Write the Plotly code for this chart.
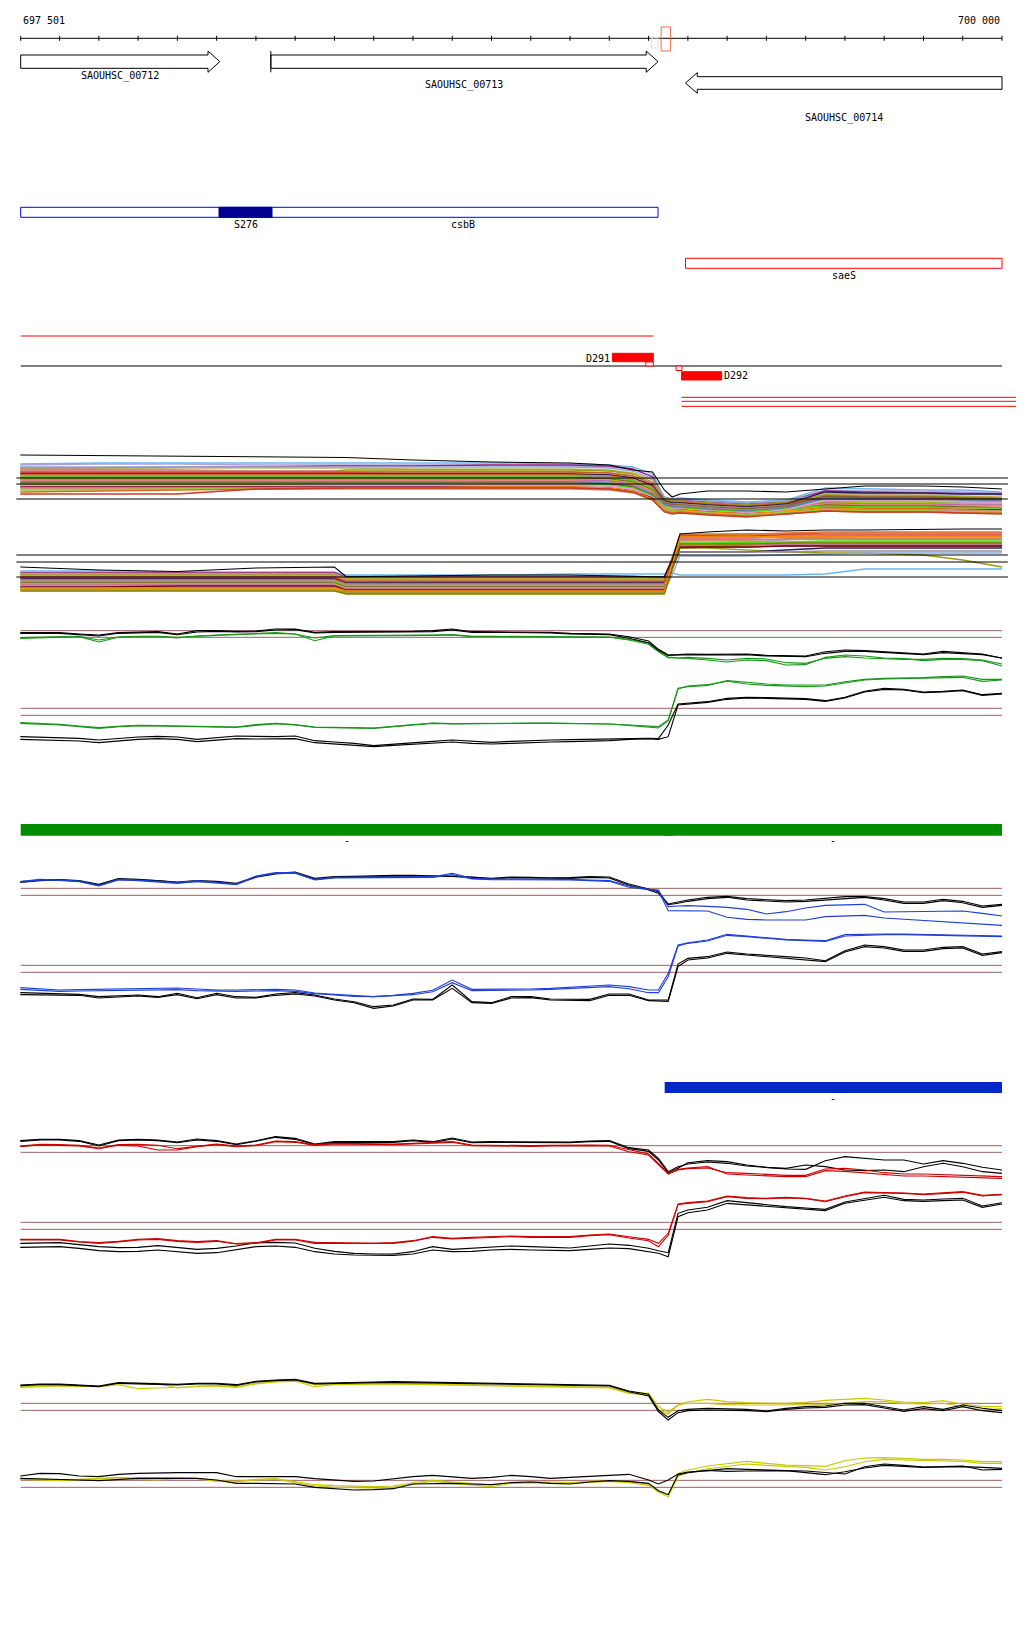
import plotly.graph_objects as go

PAGE_W, PAGE_H = 1024, 1640
BODY_MARGIN = 8  # default page margin around the plot div
W, H = PAGE_W - BODY_MARGIN, PAGE_H - BODY_MARGIN

# ---------------- genomic window / ruler ----------------
PX_PER_BP = 0.39268
PAGE_LEFT_BP = 697448.3            # position at the left page edge
VIEW_START = PAGE_LEFT_BP + BODY_MARGIN / PX_PER_BP
VIEW_END = PAGE_LEFT_BP + PAGE_W / PX_PER_BP
RULER_START, RULER_END = 697501, 700000
RULER_TICKS = [697501] + list(range(697600, 700001, 100))
RULER_LABELS = ["697 501", "700 000"]

# ---------------- genes ----------------
GENE_NAMES = ["SAOUHSC_00712", "SAOUHSC_00713", "SAOUHSC_00714"]
GENE_START = [697501, 698138, 699194]
GENE_END = [698008, 699124, 700000]
GENE_STRAND = ["+", "+", "-"]
GENE_TRUNCATED_START = [False, True, False]

# ---------------- protein features ----------------
DOMAIN_NAMES = ["csbB", "saeS"]
DOMAIN_START = [697501, 699194]
DOMAIN_END = [699124, 700000]
DOMAIN_LABEL_POS = [698627, 699597]
DOMAIN_COLORS = ["#0000ff", "#ff0000"]
SITE_NAMES = ["S276"]
SITE_START = [698006]
SITE_END = [698141]

# markers on the ruler
MARK_START = [699107, 699132]
MARK_END = [699124, 699156]
MARK_COLORS = ["#f8d8cc", "#f26a4f"]

# deletion / fragment features
FRAG_NAMES = ["D291", "D292"]
FRAG_START = [699008, 699184]
FRAG_END = [699112, 699286]
SMALL_BOX_START = [699093, 699170]
SMALL_BOX_END = [699112, 699185]
RED_TRACK_START = [697501, 699184, 699184, 699184]
RED_TRACK_END = [699112, 700060, 700060, 700060]

# expression-block features
GREEN_FEAT_START = [697501, 699141]
GREEN_FEAT_END = [699164, 700000]
BLUE_FEAT_START = [699141]
BLUE_FEAT_END = [700000]

# ---------------- multi-sample panel ----------------
MC_X = [697500, 697700, 697900, 698100, 698300, 698330, 698500, 698700, 698900,
        699000, 699060, 699110, 699140, 699160, 699180, 699250, 699350, 699450,
        699550, 699650, 699800, 699900, 700000]
MC_REF = [122, 116, 101, 45, 38, 23]
MC_UPPER_BLACK = [145, 144.5, 144, 143.5, 143, 142.5, 140, 138, 137, 135, 130, 128, 110, 103, 106, 109, 109, 108, 111, 114, 114, 113, 111]
MC_LOWER_BLACK = [33, 30, 28.5, 32, 33, 23.3, 24, 25, 25, 24, 24, 23, 23, 40, 66, 68, 70, 69, 70, 70, 71, 71, 71]
MC_UPPER_COLORS = ["#6cb6f0", "#b4a0d8", "#a0207c", "#8fa8e0", "#c8b060", "#9a9a10", "#e080a8", "#c06020",
                   "#d83030", "#202058", "#e8782a", "#909090", "#5cc81c", "#8b5a2b", "#a8c800", "#c060b0",
                   "#f08070", "#4682b4", "#6b6b10", "#40e010", "#cd853f", "#dda0dd", "#800020", "#ff8c00",
                   "#bc8f8f", "#9acd32", "#d2691e", "#c83c28"]
MC_UPPER = [
    [136, 137, 137, 137, 137, 137, 137, 137, 136, 135, 133, 126, 103, 101, 102, 100, 98, 100, 112, 111, 110, 110, 108],
    [135, 136, 136, 135, 135, 135, 135, 135, 134, 133, 131, 124, 102, 100, 101, 99, 97, 99, 110, 109, 109, 108, 107],
    [132, 132, 133, 133, 134, 134, 134, 135, 135, 134, 131, 123, 101, 99, 100, 98, 96, 98, 109, 108, 107, 107, 106],
    [133, 133, 133, 133, 133, 133, 133, 133, 133, 132, 129, 121, 103, 101, 101, 99, 97, 99, 107, 106, 106, 106, 105],
    [131, 131, 132, 132, 132, 132, 131, 131, 131, 130, 127, 120, 100, 98, 99, 97, 95, 97, 106, 105, 105, 104, 103],
    [130, 130, 130, 129, 129, 130, 130, 130, 130, 129, 126, 118, 101, 99, 99, 97, 95, 98, 105, 104, 104, 103, 102],
    [129, 129, 129, 129, 129, 128, 128, 128, 128, 127, 124, 117, 99, 97, 98, 96, 94, 96, 104, 103, 102, 102, 101],
    [128, 128, 128, 128, 128, 128, 128, 128, 128, 127, 124, 116, 100, 98, 98, 96, 94, 97, 103, 102, 102, 101, 100],
    [127, 127, 127, 127, 127, 127, 126, 126, 126, 125, 122, 115, 98, 96, 97, 95, 93, 95, 102, 102, 101, 101, 100],
    [126, 126, 126, 126, 126, 126, 126, 126, 126, 125, 122, 114, 99, 97, 97, 95, 93, 96, 108, 107, 107, 106, 106],
    [125, 125, 125, 125, 125, 125, 125, 125, 125, 124, 121, 113, 97, 95, 96, 94, 92, 94, 101, 100, 99, 99, 98],
    [124, 124, 124, 124, 124, 124, 124, 124, 124, 123, 120, 112, 98, 96, 96, 94, 92, 95, 100, 99, 99, 98, 97],
    [123, 123, 123, 123, 123, 123, 123, 123, 123, 122, 119, 111, 96, 94, 95, 93, 91, 93, 99, 98, 98, 97, 97],
    [122, 122, 122, 122, 122, 122, 122, 122, 122, 121, 118, 110, 97, 95, 95, 93, 91, 94, 104, 103, 103, 102, 101],
    [121, 121, 121, 121, 121, 121, 121, 121, 121, 120, 117, 109, 95, 93, 94, 92, 90, 92, 98, 97, 97, 96, 96],
    [120, 120, 120, 120, 120, 120, 120, 120, 120, 119, 116, 108, 96, 94, 94, 92, 90, 93, 97, 96, 96, 95, 95],
    [119, 119, 119, 119, 119, 119, 119, 119, 119, 118, 115, 107, 94, 92, 93, 91, 89, 91, 96, 95, 95, 94, 93],
    [118, 118, 118, 118, 118, 118, 118, 118, 118, 117, 114, 106, 95, 93, 93, 91, 89, 92, 102, 101, 101, 100, 100],
    [117, 117, 117, 117, 117, 117, 117, 117, 117, 116, 113, 105, 93, 91, 92, 90, 88, 90, 95, 94, 94, 93, 92],
    [116, 116, 116, 116, 116, 116, 116, 116, 116, 115, 112, 104, 94, 92, 92, 90, 88, 91, 94, 93, 93, 92, 92],
    [115, 115, 115, 115, 115, 115, 115, 115, 115, 114, 111, 103, 92, 90, 91, 89, 87, 89, 93, 92, 92, 91, 90],
    [114, 114, 114, 114, 115, 115, 115, 115, 115, 114, 111, 103, 93, 91, 91, 89, 87, 90, 100, 99, 99, 98, 97],
    [113, 113, 113, 113, 113, 113, 113, 113, 113, 112, 109, 102, 91, 89, 90, 88, 86, 88, 92, 91, 91, 90, 90],
    [112, 112, 112, 112, 112, 112, 112, 113, 113, 112, 109, 101, 92, 90, 90, 88, 86, 89, 92, 91, 91, 90, 89],
    [111, 111, 111, 111, 111, 111, 111, 111, 111, 110, 107, 100, 90, 88, 89, 87, 85, 87, 91, 90, 90, 89, 89],
    [110, 110, 111, 111, 111, 112, 112, 112, 112, 111, 108, 100, 91, 89, 89, 87, 85, 88, 90, 89, 89, 88, 88],
    [108, 109, 110, 111, 112, 112, 112, 112, 112, 111, 108, 100, 89, 87, 88, 86, 84, 86, 89, 88, 88, 87, 87],
    [106, 106, 106, 111, 112, 112, 112, 112, 112, 111, 108, 100, 88, 86, 87, 85, 83, 86, 89, 88, 88, 87, 86],
]
MC_LOWER_COLORS = ["#6cb6f0", "#b4a0d8", "#a0207c", "#c8b060", "#9a9a10", "#e080a8", "#c06020", "#d83030",
                   "#202058", "#e8782a", "#909090", "#5cc81c", "#8b5a2b", "#a8c800", "#c060b0", "#f08070",
                   "#8fa8e0", "#6b6b10", "#40e010", "#cd853f", "#800020", "#ff8c00", "#808000"]
MC_LOWER = [
    [29, 29, 28, 28, 28, 25, 25, 25, 26, 26, 26, 26, 26, 27, 25, 25, 25, 25, 26, 31, 31, 31, 31],
    [28, 28, 28, 27, 27, 24, 24, 24, 24, 24, 24, 23, 23, 40, 58, 58, 58, 60, 62, 62, 62, 62, 62],
    [27, 27, 27, 27, 27, 23, 23, 23, 23, 23, 23, 23, 23, 42, 62, 62, 62, 63, 63, 64, 64, 64, 64],
    [26, 26, 26, 26, 26, 22, 22, 22, 22, 22, 22, 22, 22, 38, 55, 55, 56, 57, 58, 58, 58, 58, 58],
    [25, 25, 25, 25, 25, 21, 21, 21, 21, 21, 21, 21, 21, 36, 52, 52, 50, 48, 47, 47, 45, 40, 33],
    [24, 24, 24, 24, 24, 20, 20, 20, 20, 20, 20, 20, 20, 40, 60, 60, 60, 61, 61, 61, 61, 61, 61],
    [23, 23, 23, 23, 23, 19, 19, 19, 19, 19, 19, 19, 19, 42, 65, 65, 66, 66, 67, 67, 67, 67, 67],
    [22, 22, 22, 22, 22, 18, 18, 18, 18, 18, 18, 18, 18, 41, 64, 64, 64, 65, 65, 65, 65, 65, 65],
    [21, 21, 21, 21, 21, 17, 17, 17, 17, 17, 17, 17, 17, 33, 48, 48, 48, 50, 52, 52, 52, 52, 52],
    [20, 20, 20, 20, 20, 16, 16, 16, 16, 16, 16, 16, 16, 40, 66, 66, 66, 67, 68, 68, 68, 68, 68],
    [19, 19, 19, 19, 19, 15, 15, 15, 15, 15, 15, 15, 15, 32, 48, 48, 48, 48, 49, 49, 49, 49, 49],
    [18, 18, 18, 18, 18, 14, 14, 14, 14, 14, 14, 14, 14, 35, 56, 56, 57, 57, 57, 57, 57, 57, 57],
    [17, 17, 17, 17, 17, 13, 13, 13, 13, 13, 13, 13, 13, 38, 63, 63, 63, 64, 64, 64, 64, 64, 64],
    [16, 16, 16, 16, 16, 12, 12, 12, 12, 12, 12, 12, 12, 34, 55, 55, 55, 56, 56, 56, 56, 56, 56],
    [15, 15, 15, 15, 15, 11, 11, 11, 11, 11, 11, 11, 11, 33, 54, 54, 55, 55, 55, 55, 55, 55, 55],
    [14, 14, 14, 14, 14, 10, 10, 10, 10, 10, 10, 10, 10, 36, 62, 62, 62, 63, 63, 63, 63, 63, 63],
    [13, 13, 13, 13, 13, 9, 9, 9, 9, 9, 9, 9, 9, 25, 44, 44, 44, 45, 46, 47, 47, 47, 47],
    [12, 12, 12, 12, 12, 8, 8, 8, 8, 8, 8, 8, 8, 30, 52, 53, 53, 54, 54, 54, 54, 54, 54],
    [11, 11, 11, 11, 11, 7, 7, 7, 7, 7, 7, 7, 7, 32, 57, 57, 58, 58, 59, 59, 59, 59, 59],
    [10, 10, 10, 10, 10, 7, 7, 7, 7, 7, 7, 7, 7, 34, 60, 60, 60, 61, 61, 61, 61, 61, 61],
    [13, 13, 14, 14, 14, 10, 10, 10, 10, 10, 10, 10, 10, 32, 53, 53, 53, 54, 54, 54, 54, 54, 54],
    [12, 12, 12, 12, 12, 9, 9, 9, 9, 9, 9, 9, 9, 36, 63, 63, 63, 64, 64, 64, 64, 64, 64],
    [9, 9, 9, 9, 9, 6, 6, 6, 6, 6, 6, 6, 6, 30, 56, 56, 56, 57, 57, 57, 57, 57, 57],
]

# ---------------- detailed panels (shared position grid) ----------------
GRID_X = list(range(697500, 699101, 50)) + [699125, 699150, 699175] + list(range(699200, 700001, 50))

G_REF = [388, 368, 155, 134]
G_TOP_K1 = [382, 382, 382, 378, 375, 382, 384, 385, 378, 388, 388, 386, 387, 393, 393, 383, 385, 385, 385, 385,
            386, 388, 393, 385, 385, 385, 384, 383, 380, 380, 378, 370, 357, 332, 315, 316,
            318, 317, 317, 318, 314, 312, 312, 325, 330, 328, 324, 320, 318, 326, 322, 318, 305]
G_TOP_K2 = [380, 380, 380, 376, 372, 380, 382, 383, 376, 384, 386, 384, 385, 390, 391, 381, 383, 383, 383, 383,
            384, 385, 390, 383, 383, 383, 382, 381, 378, 378, 376, 365, 352, 330, 314, 315,
            316, 316, 315, 316, 312, 310, 310, 320, 326, 326, 322, 318, 316, 322, 320, 316, 306]
G_TOP_G1 = [365, 367, 368, 370, 354, 368, 370, 370, 366, 372, 375, 377, 379, 382, 378, 358, 372, 372, 372, 372,
            373, 374, 375, 370, 370, 370, 370, 370, 370, 370, 368, 360, 347, 325, 307, 306,
            305, 300, 294, 300, 298, 285, 286, 308, 315, 312, 306, 304, 298, 302, 302, 298, 282]
G_TOP_G2 = [367, 368, 369, 371, 360, 369, 371, 371, 368, 372, 374, 376, 378, 380, 378, 366, 373, 373, 373, 373,
            374, 375, 376, 371, 371, 371, 371, 371, 371, 371, 369, 362, 350, 327, 309, 306,
            308, 305, 300, 305, 303, 292, 290, 305, 310, 306, 303, 302, 302, 305, 304, 300, 288]
G_BOT_G1 = [110, 108, 105, 100, 95, 100, 103, 102, 101, 100, 99, 98, 104, 109, 105, 98, 97, 96, 95, 100,
            104, 110, 108, 109, 110, 110, 110, 110, 110, 110, 108, 105, 103, 100, 120, 215,
            220, 224, 238, 232, 228, 225, 224, 225, 235, 242, 245, 245, 247, 250, 252, 242, 242]
G_BOT_G2 = [112, 110, 107, 102, 97, 101, 104, 103, 102, 101, 100, 99, 106, 110, 106, 99, 98, 97, 96, 101,
            105, 111, 109, 110, 111, 111, 111, 111, 110, 110, 108, 104, 100, 96, 118, 213,
            222, 226, 236, 228, 224, 222, 220, 222, 232, 240, 243, 244, 245, 246, 248, 236, 240]
G_BOT_K1 = [70, 68, 66, 65, 60, 65, 69, 71, 69, 62, 68, 72, 71, 70, 72, 58, 54, 50, 43, 48,
            52, 56, 60, 56, 53, 56, 59, 60, 61, 62, 63, 65, 65, 64, 105, 168,
            170, 175, 185, 188, 187, 186, 184, 178, 188, 206, 215, 212, 204, 206, 210, 196, 200]
G_BOT_K2 = [62, 60, 58, 57, 52, 58, 62, 64, 62, 55, 60, 64, 63, 63, 64, 52, 48, 44, 40, 44,
            47, 50, 54, 50, 48, 50, 53, 54, 55, 56, 58, 62, 64, 62, 70, 165,
            168, 173, 182, 186, 185, 184, 182, 176, 186, 204, 212, 210, 202, 204, 208, 194, 198]

B_REF = [365, 344, 134, 113]
B_TOP_K1 = [385, 390, 391, 388, 377, 394, 392, 389, 384, 388, 386, 380, 400, 410, 414, 395, 400, 401, 403, 404,
            404, 403, 402, 399, 395, 399, 398, 396, 397, 400, 399, 378, 363, 355, 318, 325,
            330, 338, 341, 334, 330, 328, 330, 334, 340, 340, 334, 324, 324, 332, 326, 312, 317]
B_TOP_K2 = [383, 388, 390, 386, 374, 392, 390, 388, 382, 386, 384, 378, 398, 408, 412, 392, 398, 399, 401, 402,
            402, 401, 401, 398, 393, 397, 396, 394, 395, 398, 396, 374, 360, 350, 316, 320,
            326, 334, 338, 330, 326, 324, 326, 330, 336, 338, 330, 320, 320, 328, 322, 308, 314]
B_TOP_B1 = [385, 392, 390, 387, 374, 392, 390, 387, 382, 388, 384, 378, 402, 412, 412, 392, 398, 398, 398, 398,
            398, 400, 410, 395, 393, 393, 392, 392, 392, 390, 388, 372, 362, 360, 310, 312,
            313, 311, 308, 302, 288, 295, 306, 314, 316, 317, 294, 295, 296, 298, 297, 290, 282]
B_TOP_B2 = [383, 390, 389, 385, 372, 390, 388, 385, 380, 386, 382, 376, 400, 410, 410, 390, 396, 396, 396, 396,
            396, 398, 406, 393, 391, 391, 390, 390, 390, 388, 386, 368, 360, 358, 298, 298,
            298, 297, 278, 272, 270, 270, 270, 280, 283, 284, 276, 272, 268, 265, 262, 258, 254]
B_BOT_B1 = [67, 63, 60, 61, 62, 63, 65, 67, 66, 63, 60, 60, 61, 62, 60, 51, 47, 43, 40, 44,
            50, 59, 90, 62, 62, 62, 63, 65, 68, 70, 75, 70, 60, 60, 110, 195,
            202, 210, 227, 222, 216, 212, 210, 208, 226, 228, 228, 228, 227, 226, 225, 223, 222]
B_BOT_B2 = [62, 58, 56, 57, 58, 59, 60, 62, 61, 58, 56, 56, 57, 58, 56, 49, 45, 41, 40, 42,
            46, 55, 82, 58, 58, 58, 60, 62, 64, 66, 70, 64, 52, 52, 100, 192,
            200, 207, 224, 220, 214, 210, 208, 206, 222, 225, 226, 226, 225, 224, 223, 221, 220]
B_BOT_K1 = [52, 50, 49, 47, 40, 43, 45, 40, 50, 37, 50, 40, 38, 48, 52, 45, 33, 25, 10, 15,
            33, 32, 75, 25, 22, 40, 40, 33, 32, 32, 48, 48, 30, 29, 30, 138,
            155, 160, 174, 168, 163, 160, 156, 148, 178, 195, 190, 180, 180, 188, 190, 168, 175]
B_BOT_K2 = [46, 46, 45, 44, 36, 40, 42, 38, 46, 34, 46, 36, 36, 44, 48, 42, 30, 22, 5, 12,
            30, 30, 65, 22, 20, 36, 37, 30, 28, 28, 44, 44, 28, 26, 26, 130,
            150, 156, 170, 165, 160, 156, 152, 145, 174, 190, 186, 176, 176, 184, 186, 164, 172]

R_REF = [373, 353, 143, 122]
R_TOP_K1 = [388, 392, 392, 388, 375, 390, 392, 390, 384, 393, 388, 378, 388, 400, 395, 378, 385, 385, 385, 385,
            390, 385, 396, 384, 385, 385, 385, 383, 384, 387, 388, 367, 360, 335, 295, 310,
            318, 324, 320, 312, 308, 303, 302, 328, 340, 335, 330, 330, 318, 328, 320, 308, 300]
R_TOP_K2 = [386, 390, 390, 386, 372, 388, 390, 388, 382, 390, 386, 376, 386, 398, 392, 376, 383, 383, 383, 383,
            388, 383, 393, 382, 383, 383, 383, 381, 382, 385, 386, 364, 356, 330, 292, 305,
            322, 328, 325, 315, 308, 305, 315, 310, 300, 298, 300, 295, 310, 320, 310, 295, 290]
R_TOP_R1 = [372, 377, 376, 374, 366, 376, 377, 374, 364, 372, 378, 372, 375, 387, 385, 376, 380, 379, 378, 378,
            380, 382, 385, 375, 374, 372, 373, 374, 375, 375, 374, 360, 348, 320, 290, 302,
            306, 310, 288, 285, 282, 280, 280, 298, 296, 292, 286, 282, 282, 280, 279, 277, 275]
R_TOP_R2 = [370, 375, 374, 372, 364, 374, 372, 360, 360, 370, 376, 370, 373, 385, 383, 374, 378, 377, 376, 376,
            378, 380, 383, 373, 372, 370, 371, 372, 373, 373, 372, 355, 345, 318, 288, 300,
            304, 306, 292, 290, 286, 284, 284, 303, 305, 300, 292, 288, 288, 286, 284, 282, 280]
R_BOT_R1 = [92, 92, 92, 85, 82, 86, 92, 94, 88, 85, 88, 79, 82, 92, 92, 83, 82, 82, 80, 82,
            88, 100, 95, 98, 100, 102, 100, 100, 100, 105, 108, 100, 92, 80, 110, 198,
            202, 207, 222, 217, 215, 218, 215, 207, 222, 234, 233, 231, 228, 232, 235, 224, 227]
R_BOT_R2 = [90, 90, 90, 84, 80, 84, 90, 92, 86, 83, 86, 78, 80, 90, 90, 80, 80, 80, 78, 80,
            86, 98, 93, 96, 98, 100, 98, 98, 98, 103, 106, 96, 88, 70, 104, 196,
            200, 205, 220, 215, 214, 216, 214, 205, 220, 232, 232, 230, 226, 230, 233, 222, 226]
R_BOT_K1 = [80, 81, 82, 76, 70, 67, 68, 73, 68, 62, 65, 72, 82, 83, 81, 65, 56, 50, 48, 48,
            55, 70, 62, 65, 70, 72, 70, 67, 66, 72, 78, 74, 65, 58, 52, 170,
            180, 188, 208, 202, 195, 190, 186, 182, 204, 215, 224, 212, 210, 213, 215, 192, 202]
R_BOT_K2 = [68, 70, 70, 65, 58, 55, 56, 60, 56, 50, 52, 60, 70, 72, 68, 55, 48, 45, 44, 44,
            48, 60, 55, 56, 60, 62, 60, 58, 58, 62, 66, 64, 56, 50, 40, 160,
            172, 180, 200, 196, 190, 186, 182, 178, 200, 210, 218, 208, 206, 208, 210, 188, 198]

Y_REF = [350, 329, 119, 98]
Y_TOP_K1 = [405, 408, 408, 406, 402, 412, 411, 410, 407, 410, 410, 406, 416, 420, 422, 410, 412, 413, 414, 415,
            414, 413, 412, 411, 411, 410, 409, 408, 408, 406, 404, 387, 377, 330, 308, 328,
            332, 335, 334, 332, 327, 335, 340, 342, 350, 350, 340, 330, 340, 332, 345, 335, 328]
Y_TOP_K2 = [403, 406, 406, 404, 400, 410, 409, 408, 405, 408, 408, 404, 414, 418, 420, 408, 410, 411, 412, 413,
            412, 411, 410, 409, 409, 408, 407, 406, 406, 404, 402, 385, 372, 325, 300, 322,
            328, 330, 330, 328, 325, 332, 336, 338, 345, 346, 336, 326, 334, 328, 340, 328, 322]
Y_TOP_Y1 = [400, 403, 404, 403, 402, 410, 410, 410, 396, 402, 404, 400, 410, 416, 418, 406, 408, 409, 410, 410,
            409, 408, 406, 405, 404, 403, 402, 401, 400, 400, 398, 383, 380, 340, 324, 345,
            355, 362, 355, 352, 351, 350, 353, 359, 362, 365, 360, 354, 352, 358, 347, 341, 340]
Y_TOP_Y2 = [398, 400, 402, 401, 400, 406, 394, 396, 398, 400, 402, 398, 408, 414, 416, 400, 406, 407, 408, 408,
            407, 406, 404, 403, 402, 401, 400, 399, 398, 398, 396, 380, 376, 332, 318, 345,
            350, 350, 346, 345, 345, 344, 345, 346, 350, 355, 355, 350, 348, 350, 340, 330, 334]
Y_BOT_K1 = [132, 140, 139, 132, 130, 137, 140, 142, 142, 142, 142, 130, 130, 130, 130, 124, 120, 116, 117, 124,
            130, 134, 130, 125, 128, 134, 130, 125, 128, 132, 134, 137, 120, 108, 120, 138,
            144, 148, 154, 152, 149, 148, 147, 142, 138, 160, 168, 164, 159, 160, 162, 150, 152]
Y_BOT_K2 = [125, 124, 123, 120, 118, 122, 125, 125, 125, 125, 120, 110, 110, 110, 108, 98, 94, 90, 91, 94,
            108, 110, 110, 108, 106, 112, 114, 110, 108, 114, 118, 116, 110, 88, 76, 135,
            142, 149, 146, 147, 148, 148, 142, 136, 145, 156, 164, 162, 158, 159, 160, 158, 155]
Y_BOT_Y1 = [125, 122, 120, 122, 125, 126, 127, 128, 127, 125, 118, 116, 122, 124, 115, 106, 103, 101, 100, 102,
            112, 119, 114, 108, 105, 112, 115, 114, 112, 116, 118, 115, 108, 88, 76, 140,
            150, 162, 170, 176, 170, 165, 163, 161, 178, 186, 187, 184, 182, 182, 180, 175, 175]
Y_BOT_Y2 = [122, 120, 118, 121, 124, 128, 122, 120, 124, 124, 116, 114, 120, 122, 112, 102, 98, 96, 96, 98,
            108, 116, 110, 105, 100, 110, 112, 112, 110, 114, 116, 112, 104, 84, 70, 132,
            142, 154, 162, 168, 164, 160, 158, 150, 160, 175, 182, 180, 178, 176, 176, 170, 170]

# ---------------- layout (track rows, in page rows) ----------------
ROW_RULER = 38.3
ROW_RULER_LABEL = 20
GENE_ROWS = [(55, 68.3), (55, 68.3), (76.7, 89.3)]
GENE_LABEL_ROWS = [76, 85, 118]
DOMAIN_ROWS = [(207.3, 217.3), (258.3, 268.3)]
DOMAIN_LABEL_ROWS = [224, 275]
ROW_RED_TRACK = [336, 397.3, 401.3, 406.3]
ROW_BLACK_TRACK = 366
FRAG_ROWS = [(353.3, 361.7), (371.7, 380)]
SMALL_BOX_ROWS = [(362, 366), (366, 370.5)]
MARK_ROWS = [(38, 48), (27, 51)]
GREEN_BAR_ROW = (824, 835.7)
BLUE_BAR_ROW = (1082, 1093)
PANELS = {  # axis: (top row, bottom row, value range)
    "y2": (440, 600, 160),
    "y3": (610, 760, 450),
    "y4": (810, 1010, 600),
    "y5": (1070, 1270, 600),
    "y6": (1360, 1520, 480),
}

FONT = dict(family="DejaVu Sans Mono", size=10, color="black")
BROWN = "#9c6262"

fig = go.Figure()
shapes = []
ann = []


def line_shape(x0, x1, y0, y1, color="black", width=1):
    shapes.append(dict(type="line", xref="x", yref="y", x0=x0, x1=x1, y0=y0, y1=y1,
                       line=dict(color=color, width=width)))


def rect(x0, x1, y0, y1, line_color, fill="rgba(0,0,0,0)", width=1):
    shapes.append(dict(type="rect", xref="x", yref="y", x0=x0, x1=x1, y0=y0, y1=y1,
                       line=dict(color=line_color, width=width), fillcolor=fill))


def text(x, y, s, anchor="center"):
    ann.append(dict(x=x, y=y, xref="x", yref="y", text=s, showarrow=False,
                    xanchor=anchor, yanchor="middle", font=FONT))


# ruler
line_shape(RULER_START, RULER_END, ROW_RULER, ROW_RULER)
for t in RULER_TICKS:
    line_shape(t, t, ROW_RULER - 2.5, ROW_RULER + 2.5)
text(RULER_START, ROW_RULER_LABEL, RULER_LABELS[0], "left")
text(RULER_END, ROW_RULER_LABEL, RULER_LABELS[1], "right")
for s, e, c, (a, b) in zip(MARK_START, MARK_END, MARK_COLORS, MARK_ROWS):
    rect(s, e, a, b, c)

# genes
HEAD_LEN = 30
for name, s, e, strand, trunc, (yt, yb), ly in zip(GENE_NAMES, GENE_START, GENE_END, GENE_STRAND,
                                                   GENE_TRUNCATED_START, GENE_ROWS, GENE_LABEL_ROWS):
    ym = (yt + yb) / 2
    if strand == "+":
        hb = e - HEAD_LEN
        path = (f"M {s},{yt} L {hb},{yt} L {hb},{yt-4} L {e},{ym} L {hb},{yb+4} "
                f"L {hb},{yb} L {s},{yb} Z")
    else:
        hb = s + HEAD_LEN
        path = (f"M {e},{yt} L {hb},{yt} L {hb},{yt-4} L {s},{ym} L {hb},{yb+4} "
                f"L {hb},{yb} L {e},{yb} Z")
    shapes.append(dict(type="path", xref="x", yref="y", path=path,
                       line=dict(color="black", width=1), fillcolor="white"))
    if trunc:
        line_shape(s, s, yt - 4, yb + 4)
    text((s + e) / 2, ly, name)

# protein domains
for name, s, e, lx, c, (yt, yb), ly in zip(DOMAIN_NAMES, DOMAIN_START, DOMAIN_END, DOMAIN_LABEL_POS,
                                           DOMAIN_COLORS, DOMAIN_ROWS, DOMAIN_LABEL_ROWS):
    rect(s, e, yt, yb, c)
    text(lx, ly, name)
for name, s, e in zip(SITE_NAMES, SITE_START, SITE_END):
    yt, yb = DOMAIN_ROWS[0]
    rect(s, e, yt, yb, "#000090", "#000090")
    text((s + e) / 2, DOMAIN_LABEL_ROWS[0], name)

# fragments
for s, e, y in zip(RED_TRACK_START, RED_TRACK_END, ROW_RED_TRACK):
    line_shape(s, e, y, y, "#ff0000")
line_shape(RULER_START, RULER_END, ROW_BLACK_TRACK, ROW_BLACK_TRACK)
for i, (name, s, e, (yt, yb)) in enumerate(zip(FRAG_NAMES, FRAG_START, FRAG_END, FRAG_ROWS)):
    rect(s, e, yt, yb, "#ff0000", "#ff0000")
    if i == 0:
        text(s - 2, (yt + yb) / 2 + 0.5, name, "right")
    else:
        text(e, (yt + yb) / 2, name, "left")
for s, e, (yt, yb) in zip(SMALL_BOX_START, SMALL_BOX_END, SMALL_BOX_ROWS):
    rect(s, e, yt, yb, "#ff0000", "white")

# expression blocks
for s, e in zip(GREEN_FEAT_START, GREEN_FEAT_END):
    rect(s, e, GREEN_BAR_ROW[0], GREEN_BAR_ROW[1], "#008c00", "#008c00", 0)
    text((s + e) / 2, GREEN_BAR_ROW[1] + 5, "-")
for s, e in zip(BLUE_FEAT_START, BLUE_FEAT_END):
    rect(s, e, BLUE_BAR_ROW[0], BLUE_BAR_ROW[1], "#0028c8", "#0028c8", 0)
    text((s + e) / 2, BLUE_BAR_ROW[1] + 5, "-")


def add_series(xs, ys, color, yaxis, width=1.1):
    n = min(len(xs), len(ys))
    fig.add_trace(go.Scatter(x=xs[:n], y=ys[:n], mode="lines", yaxis=yaxis,
                             line=dict(color=color, width=width), hoverinfo="skip",
                             showlegend=False))


def add_refs(vals, color, yaxis, x0, x1):
    for v in vals:
        add_series([x0, x1], [v, v], color, yaxis, 1.0)


# multi-sample panel
for vals, c in zip(MC_UPPER, MC_UPPER_COLORS):
    add_series(MC_X, vals, c, "y2", 1.3)
for vals, c in zip(MC_LOWER, MC_LOWER_COLORS):
    add_series(MC_X, vals, c, "y2", 1.3)
add_refs(MC_REF, "black", "y2", 697490, 700015)
add_series(MC_X, MC_UPPER_BLACK, "black", "y2")
add_series(MC_X, MC_LOWER_BLACK, "black", "y2")

# detailed panels
x0r, x1r = RULER_START, RULER_END
add_refs(G_REF, BROWN, "y3", x0r, x1r)
for ys, c in [(G_TOP_G1, "#1a961a"), (G_TOP_G2, "#1a961a"), (G_BOT_G1, "#1a961a"), (G_BOT_G2, "#1a961a"),
              (G_TOP_K1, "black"), (G_TOP_K2, "black"), (G_BOT_K1, "black"), (G_BOT_K2, "black")]:
    add_series(GRID_X, ys, c, "y3")

add_refs(B_REF, BROWN, "y4", x0r, x1r)
for ys, c in [(B_TOP_K1, "black"), (B_TOP_K2, "black"), (B_BOT_K1, "black"), (B_BOT_K2, "black"),
              (B_TOP_B1, "#1e3fd8"), (B_TOP_B2, "#1e3fd8"), (B_BOT_B1, "#1e3fd8"), (B_BOT_B2, "#1e3fd8")]:
    add_series(GRID_X, ys, c, "y4")

add_refs(R_REF, BROWN, "y5", x0r, x1r)
for ys, c in [(R_TOP_K1, "black"), (R_TOP_K2, "black"), (R_BOT_K1, "black"), (R_BOT_K2, "black"),
              (R_TOP_R1, "#cc0000"), (R_TOP_R2, "#cc0000"), (R_BOT_R1, "#cc0000"), (R_BOT_R2, "#cc0000")]:
    add_series(GRID_X, ys, c, "y5")

add_refs(Y_REF, BROWN, "y6", x0r, x1r)
for ys, c in [(Y_TOP_Y1, "#c8c800"), (Y_TOP_Y2, "#c8c800"), (Y_BOT_Y1, "#c8c800"), (Y_BOT_Y2, "#c8c800"),
              (Y_TOP_K1, "black"), (Y_TOP_K2, "black"), (Y_BOT_K1, "black"), (Y_BOT_K2, "black")]:
    add_series(GRID_X, ys, c, "y6")

layout_axes = {}
for name, (top, bottom, vrange) in PANELS.items():
    key = "yaxis" + name[1:]
    d0 = 1 - (bottom - BODY_MARGIN) / H
    d1 = 1 - (top - BODY_MARGIN) / H
    layout_axes[key] = dict(domain=[d0, d1], range=[0, vrange], visible=False,
                            anchor="x", fixedrange=True)

fig.update_layout(
    width=W, height=H, margin=dict(l=0, r=0, t=0, b=0),
    paper_bgcolor="white", plot_bgcolor="white",
    xaxis=dict(range=[VIEW_START, VIEW_END], visible=False, domain=[0, 1], fixedrange=True),
    yaxis=dict(range=[PAGE_H, BODY_MARGIN], visible=False, domain=[0, 1], fixedrange=True),
    shapes=shapes, annotations=ann, showlegend=False,
    **layout_axes,
)

fig.write_html("out.html")
